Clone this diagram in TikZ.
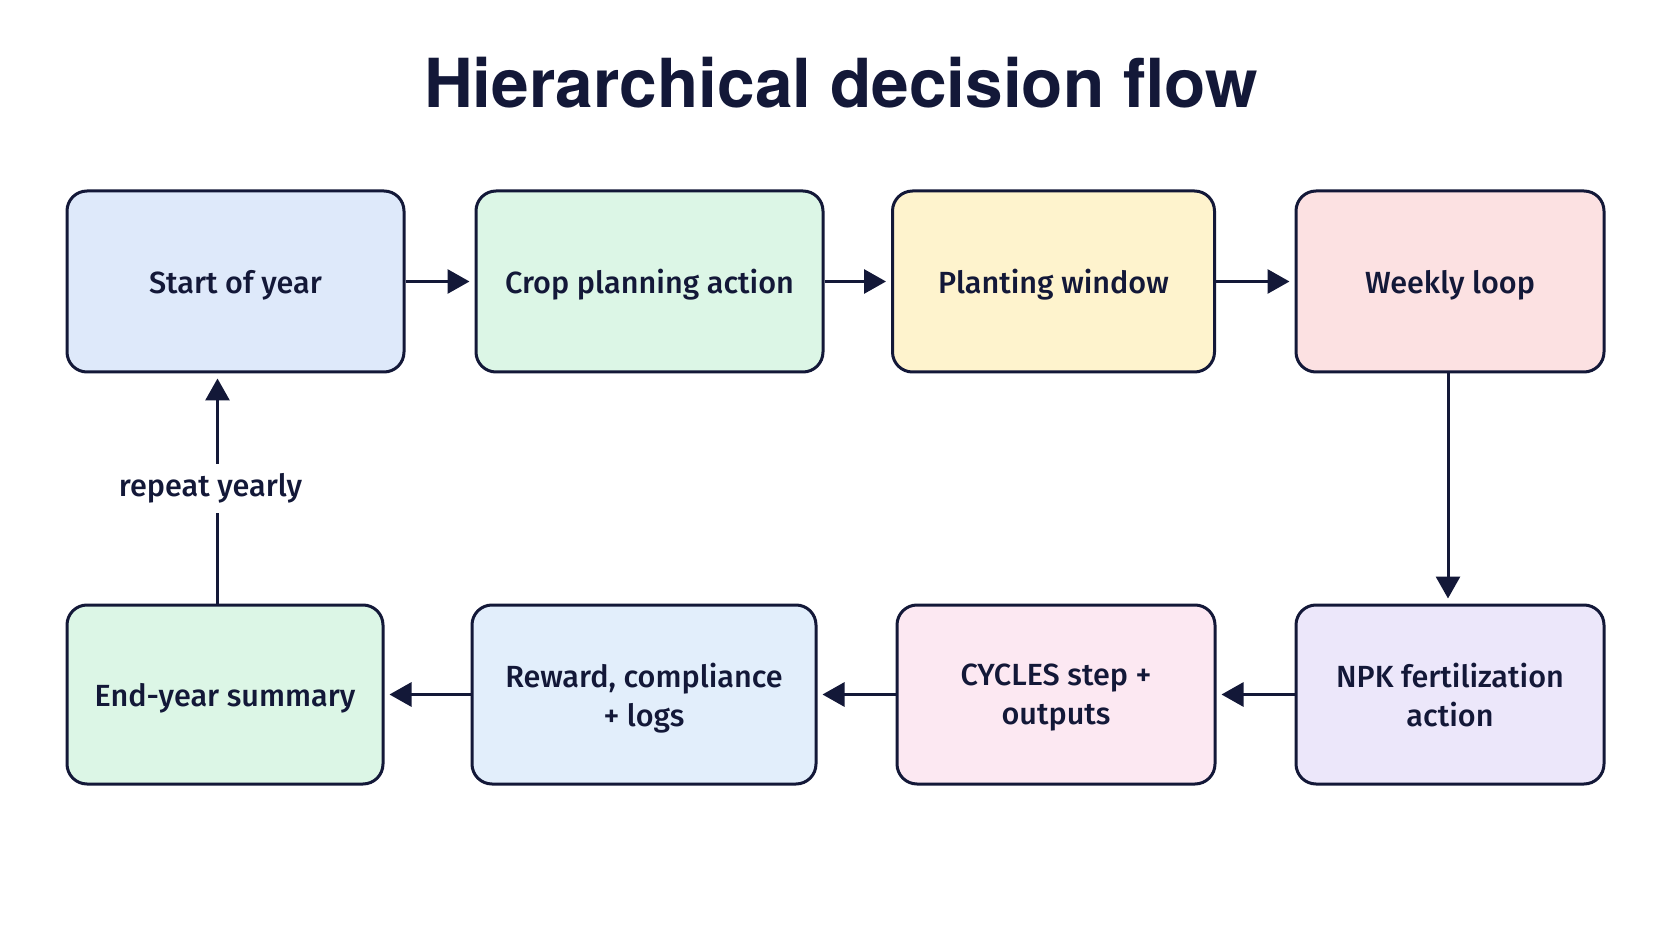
\documentclass[tikz,border=0pt]{standalone}
\usepackage{fontspec}
\setmainfont{Fira Sans Medium}
\newfontfamily\titlefont{TeX Gyre Heros}
\usetikzlibrary{arrows.meta,positioning}
\definecolor{ink}{HTML}{131838}
\definecolor{fillblue}{HTML}{DEE9FA}
\definecolor{fillgreen}{HTML}{DCF6E6}
\definecolor{fillyellow}{HTML}{FEF3CD}
\definecolor{fillrose}{HTML}{FCE1E2}
\definecolor{filllilac}{HTML}{ECE7FA}
\definecolor{fillpink}{HTML}{FCE8F2}
\definecolor{fillsky}{HTML}{E2EEFB}
\tikzset{
  stagebox/.style={draw=ink,line width=1.5pt,rounded corners=10pt,align=center,
    text=ink,font=\fontsize{15.3}{19.5}\selectfont,inner sep=0pt,text depth=0pt},
  flow/.style={-{Triangle[length=11pt,width=12pt]},ink,line width=1.5pt,shorten >=2.5pt}
}

\begin{document}
\begin{tikzpicture}[x=0.5pt,y=-0.5pt]
\useasboundingbox[fill=white] (0,0) rectangle (1672,941);
\node[text=ink,font=\titlefont\bfseries\fontsize{33.8}{38}\selectfont] (title) at (841,83) {Hierarchical decision flow};
% top row
\node[stagebox,fill=fillblue,minimum width=168.5pt,minimum height=90.5pt] (start) at (235.5,281.5) {Start of year};
\node[stagebox,fill=fillgreen,minimum width=173.5pt,minimum height=90.5pt] (crop) at (649.5,281.5) {Crop planning action};
\node[stagebox,fill=fillyellow,minimum width=161pt,minimum height=90.5pt] (plant) at (1053.5,281.5) {Planting window};
\node[stagebox,fill=fillrose,minimum width=154pt,minimum height=90.5pt] (weekly) at (1450,281.5) {Weekly loop};
% bottom row
\node[stagebox,fill=filllilac,minimum width=154pt,minimum height=89.5pt] (npk) at (1450,694.5) {NPK fertilization\\action};
\node[stagebox,fill=fillpink,minimum width=159pt,minimum height=89.5pt] (cycles) at (1056,694.5) {CYCLES step +\\outputs};
\node[stagebox,fill=fillsky,minimum width=172pt,minimum height=89.5pt] (reward) at (644,694.5) {Reward, compliance\\+ logs};
\node[stagebox,fill=fillgreen,minimum width=158pt,minimum height=89.5pt] (endyr) at (225,694.5) {End-year summary};
% connectors
\draw[flow] (start) -- (crop);
\draw[flow] (crop) -- (plant);
\draw[flow] (plant) -- (weekly);
\draw[flow] ([xshift=-1pt]weekly.south) -- ([xshift=-1pt]npk.north);
\draw[flow] (npk) -- (cycles);
\draw[flow] (cycles) -- (reward);
\draw[flow] (reward) -- (endyr);
\draw[flow] ([xshift=-3.75pt]endyr.north) -- node[fill=white,text=ink,font=\fontsize{15.3}{18}\selectfont,inner xsep=1pt,inner ysep=5pt,xshift=-3.5pt] (yearly) {repeat yearly} ([xshift=-3.75pt]endyr.north |- start.south);
\end{tikzpicture}
\end{document}
